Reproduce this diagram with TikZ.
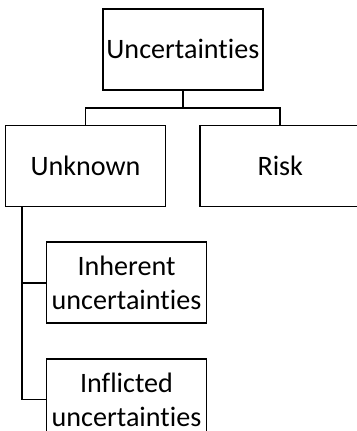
\documentclass[tikz,border=0pt]{standalone}
\usepackage{fontspec}
\setmainfont{Carlito}[Ligatures={NoCommon}]
\usetikzlibrary{positioning, calc}

\begin{document}
\begin{tikzpicture}[
    box/.style={draw, line width=1pt, minimum width=3.2cm, minimum height=1.62cm, inner sep=0.5pt, align=center, font=\fontsize{16}{19.5}\selectfont},
    link/.style={line width=1pt}
]
\useasboundingbox (0,0) rectangle (7.12,-8.62);

\node[box] (unknown) at (1.71,-3.32) {Unknown};
\node[box, right=0.66cm of unknown] (risk) {Risk};
\coordinate (mid) at ($(unknown.north)!0.5!(risk.north)$);
\node[box, above=0.68cm of mid] (top) {Uncertainties};
\node[box, below right=0.68cm and 0.82cm of unknown.south west] (inherent) {Inherent\\uncertainties};
\node[box, below=0.68cm of inherent] (inflicted) {Inflicted\\uncertainties};

\draw[link] (top.south) -- ++(0,-0.34) -| (unknown.north);
\draw[link] (top.south) -- ++(0,-0.34) -| (risk.north);
\draw[link] ([xshift=0.34cm]unknown.south west) |- (inherent.west);
\draw[link] ([xshift=0.34cm]unknown.south west) |- (inflicted.west);
\end{tikzpicture}
\end{document}
